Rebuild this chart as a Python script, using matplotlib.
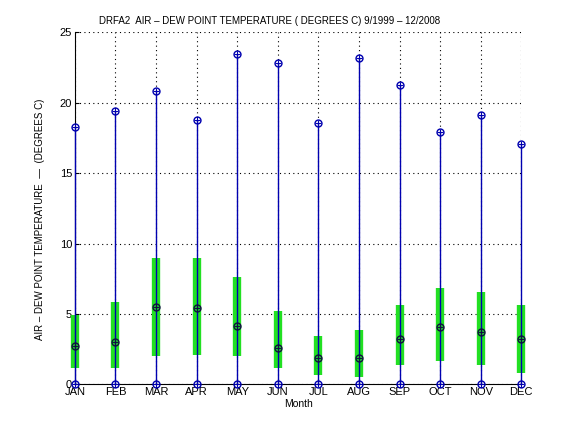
import matplotlib
matplotlib.use("Agg")
import matplotlib.pyplot as plt

plt.rcParams["font.family"] = ["Liberation Sans", "DejaVu Sans"]

months = ["JAN", "FEB", "MAR", "APR", "MAY", "JUN",
          "JUL", "AUG", "SEP", "OCT", "NOV", "DEC"]
month_num = list(range(1, 13))

# monthly statistics (degrees C)
min_vals = [0, 0, 0, 0, 0, 0, 0, 0, 0, 0, 0, 0]
max_vals = [18.3, 19.45, 20.85, 18.75, 23.45, 22.8, 18.6, 23.15, 21.25, 17.95, 19.1, 17.05]
q1_vals = [1.15, 1.15, 2.05, 2.1, 2.05, 1.2, 0.7, 0.5, 1.35, 1.7, 1.35, 0.85]
q3_vals = [4.95, 5.85, 9.0, 9.0, 7.6, 5.2, 3.45, 3.85, 5.65, 6.85, 6.55, 5.65]
median_vals = [2.7, 3.05, 5.5, 5.45, 4.15, 2.6, 1.85, 1.85, 3.2, 4.05, 3.75, 3.2]

fig = plt.figure(figsize=(5.76, 4.32), dpi=100)
ax = fig.add_axes([0.13, 0.11, 0.775, 0.815])

# green interquartile bars
ax.vlines(month_num, q1_vals, q3_vals, colors="#22e022", linewidth=6, zorder=2, clip_on=False)
# blue range lines
ax.vlines(month_num, min_vals, max_vals, colors="#0000b0", linewidth=1, zorder=3, clip_on=False)

# markers at min and max
for vals in (min_vals, max_vals):
    ax.plot(month_num, vals, "o", ms=5, mfc="none", mec="#0000b0", mew=1, zorder=4, clip_on=False)
    ax.plot(month_num, vals, "+", ms=4, mec="#0000b0", mew=0.8, zorder=4, clip_on=False)
# median markers
ax.plot(month_num, median_vals, "o", ms=5, mfc="none", mec="#101040", mew=1, zorder=4, clip_on=False)
ax.plot(month_num, median_vals, "+", ms=4, mec="#101040", mew=0.8, zorder=4, clip_on=False)

ax.set_xlim(1, 12)
ax.set_ylim(0, 25)
ax.set_xticks(month_num)
ax.set_xticklabels(months)
ax.set_yticks([0, 5, 10, 15, 20, 25])
ax.tick_params(direction="in", length=3, labelsize=8, pad=2)

ax.grid(True, color="black", linestyle=(0, (1, 3)), linewidth=0.8)
ax.set_axisbelow(True)
ax.spines["top"].set_visible(False)
ax.spines["right"].set_visible(False)

ax.set_xlabel("Month", fontsize=7.5, labelpad=1)
ax.set_ylabel("AIR \u2013 DEW POINT TEMPERATURE  \u2014  (DEGREES C)", fontsize=7, labelpad=8)
ax.yaxis.set_label_coords(-0.068, 0.47)
ax.set_title("DRFA2  AIR \u2013 DEW POINT TEMPERATURE ( DEGREES C) 9/1999 \u2013 12/2008",
             fontsize=7, x=0.437, pad=6)

fig.savefig("out.png", dpi=100)
